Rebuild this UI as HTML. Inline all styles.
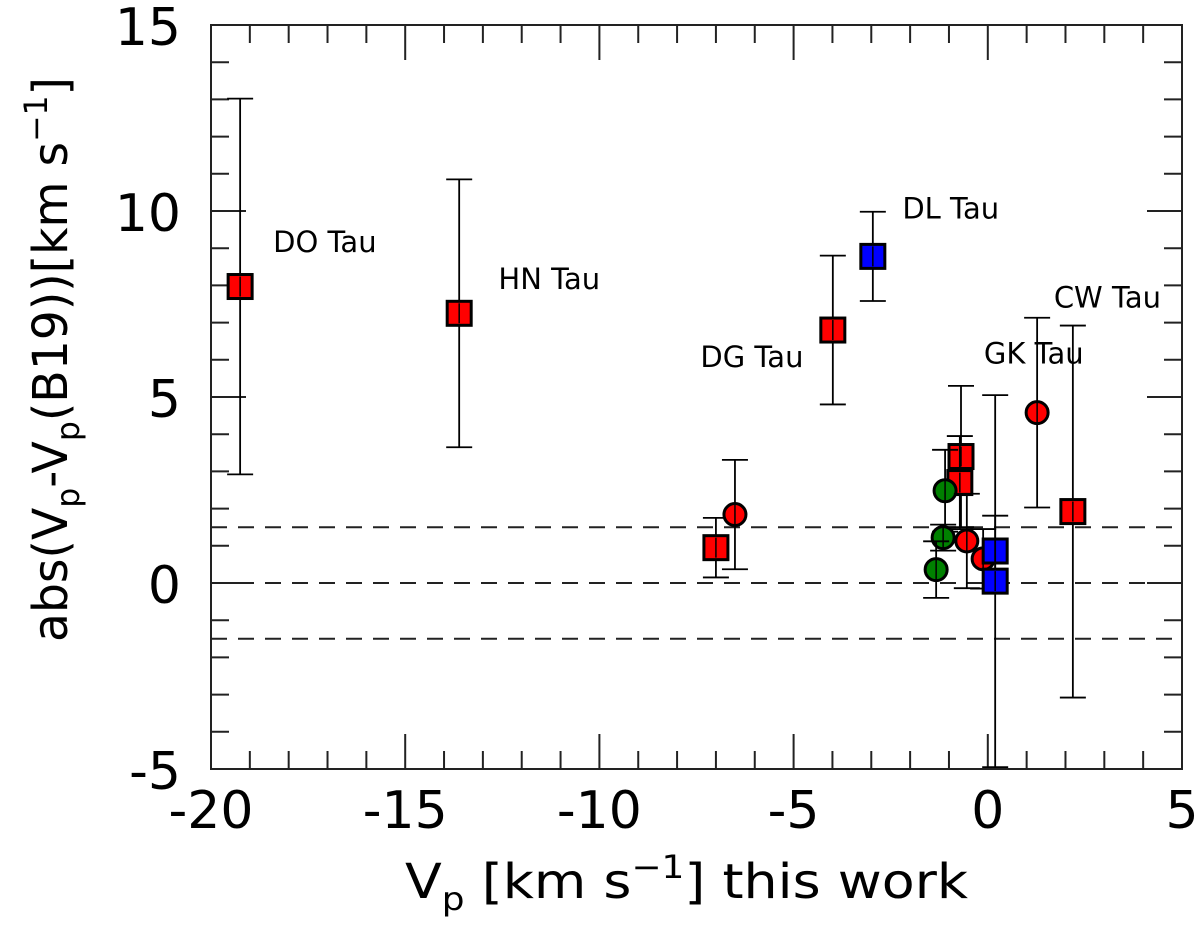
<!DOCTYPE html>
<html><head><meta charset="utf-8"><style>
html,body{margin:0;padding:0;background:#fff;}
svg text{font-family:"DejaVu Sans","Liberation Sans",sans-serif;fill:#000;}
</style></head><body>
<svg id="chart" width="1200" height="928" viewBox="0 0 1200 928" xmlns="http://www.w3.org/2000/svg">
<g id="axes"></g>
<g id="marks"></g>
<text x="405" y="898" font-size="48" textLength="563" lengthAdjust="spacingAndGlyphs">V<tspan font-size="32" dy="12">p</tspan><tspan dy="-12"> [km s</tspan><tspan font-size="32" dy="-20">−1</tspan><tspan dy="20">] this work</tspan></text>
<text transform="translate(67,642) rotate(-90)" font-size="48" textLength="565" lengthAdjust="spacingAndGlyphs">abs(V<tspan font-size="32" dy="12">p</tspan><tspan dy="-12">-V</tspan><tspan font-size="32" dy="12">p</tspan><tspan dy="-12">(B19))[km s</tspan><tspan font-size="32" dy="-20">−1</tspan><tspan dy="20">]</tspan></text>
</svg>
<script>
const xTicks=[-20,-15,-10,-5,0,5];
const yTicks=[-5,0,5,10,15];
const dashLevels=[1.5,0,-1.5];
const xs=[-19.25,-13.61,-7.0,-6.51,-3.99,-2.96,-0.69,-0.72,-1.10,-1.15,-1.33,-0.54,-0.12,0.19,0.19,1.27,2.19];
const ys=[7.97,7.25,0.95,1.84,6.8,8.78,3.40,2.70,2.48,1.22,0.36,1.13,0.65,0.86,0.05,4.58,1.92];
const errs=[5.05,3.6,0.8,1.47,2.0,1.2,1.9,1.25,1.1,0.35,0.76,1.27,0.8,0.95,5.0,2.55,5.0];
const shapes=["s","s","s","c","s","s","s","s","c","c","c","c","c","s","s","c","s"];
const colors=["red","red","red","red","red","blue","red","red","green","green","green","red","red","blue","blue","red","red"];
const labels=[["DO Tau",-18.4,8.9],["HN Tau",-12.6,7.9],["DL Tau",-2.2,9.8],["DG Tau",-7.4,5.8],["CW Tau",1.7,7.4],["GK Tau",-0.1,5.9]];
const X0=211,X1=1182,Y0=25,Y1=769;
const xs_=v=>X0+(v+20)/25*(X1-X0);
const ys_=v=>Y0+(15-v)/20*(Y1-Y0);
const NS="http://www.w3.org/2000/svg";
function mk(p,t,a){const e=document.createElementNS(NS,t);for(const k in a)e.setAttribute(k,a[k]);p.appendChild(e);return e;}
const ax=document.getElementById('axes'),mg=document.getElementById('marks');
const fr=mk(ax,'rect',{x:X0,y:Y0,width:X1-X0,height:Y1-Y0,fill:'none',stroke:'#222','stroke-width':2});


for(let v=-20;v<=5;v++){const x=xs_(v),L=(v%5===0)?35:18;
 mk(ax,'line',{x1:x,x2:x,y1:Y1,y2:Y1-L,stroke:'#222','stroke-width':2});
 mk(ax,'line',{x1:x,x2:x,y1:Y0,y2:Y0+L,stroke:'#222','stroke-width':2});}
for(let v=-5;v<=15;v++){const y=ys_(v),L=(v%5===0)?35:18;
 mk(ax,'line',{x1:X0,x2:X0+L,y1:y,y2:y,stroke:'#222','stroke-width':2});
 mk(ax,'line',{x1:X1,x2:X1-L,y1:y,y2:y,stroke:'#222','stroke-width':2});}
xTicks.forEach(v=>{const t=mk(ax,'text',{x:xs_(v),y:828,'font-size':52,'text-anchor':'middle'});t.textContent=v;
 
 });
yTicks.forEach(v=>{const t=mk(ax,'text',{x:181,y:ys_(v)+20,'font-size':52,'text-anchor':'end'});t.textContent=v;
 
 });
dashLevels.forEach(v=>{const l=mk(ax,'line',{x1:X0,x2:X1,y1:ys_(v),y2:ys_(v),stroke:'#222','stroke-width':2,'stroke-dasharray':'16,11'});
 
 });
xs.forEach((xv,i)=>{const x=xs_(xv),y=ys_(ys[i]);
 const yt=Math.max(Y0,ys_(ys[i]+errs[i])),yb=Math.min(Y1,ys_(ys[i]-errs[i]));
 const g=mk(mg,'g',{});
 
 
 mk(g,'line',{x1:x,x2:x,y1:yt,y2:yb,stroke:'#000','stroke-width':1.8});
 mk(g,'line',{x1:x-13,x2:x+13,y1:yt,y2:yt,stroke:'#000','stroke-width':1.8});
 mk(g,'line',{x1:x-13,x2:x+13,y1:yb,y2:yb,stroke:'#000','stroke-width':1.8});
 if(shapes[i]==='s')mk(g,'rect',{x:x-12,y:y-12,width:24,height:24,fill:colors[i],stroke:'#000','stroke-width':3});
 else mk(g,'circle',{cx:x,cy:y,r:11,fill:colors[i],stroke:'#000','stroke-width':3});
 mk(g,'line',{x1:x,x2:x,y1:y-10,y2:y+10,stroke:'#000','stroke-width':1.5});
});
labels.forEach(l=>{const t=mk(mg,'text',{x:xs_(l[1]),y:ys_(l[2]),'font-size':29});t.textContent=l[0];
 
 });
</script>
</body></html>
